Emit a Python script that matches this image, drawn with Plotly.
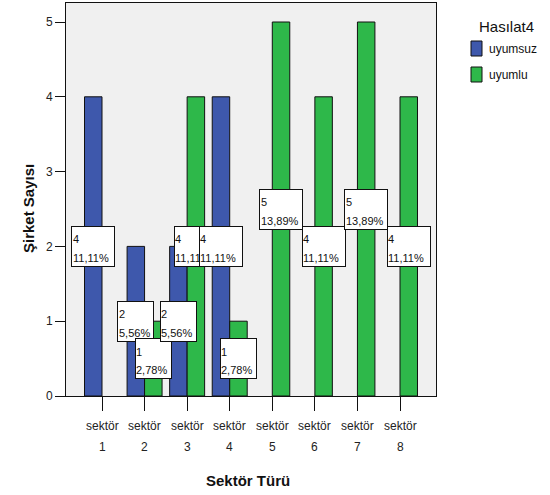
import plotly.graph_objects as go

# ---------------- data ----------------
sector_word = "sektör"
sector_nums = ["1", "2", "3", "4", "5", "6", "7", "8"]
series_names = ["uyumsuz", "uyumlu"]
uyumsuz = [4, 2, 2, 4, 0, 0, 0, 0]
uyumlu = [0, 1, 4, 1, 5, 4, 5, 4]
y_ticks = [0, 1, 2, 3, 4, 5]
legend_title = "Hasılat4"
x_title = "Sektör Türü"
y_title = "Şirket Sayısı"

# ---------------- styling / geometry ----------------
W, H = 550, 495
PL, PR, PT, PB = 66, 436, 3, 396          # plot area pixel edges
colors = ["#3e58ac", "#2eb84a"]
FONT = "Liberation Sans, Arial, sans-serif"
bar_w = 0.411
xpad = 0.8457
y_top = 5.254

def px_to_paper_x(px):
    return (px - PL) / (PR - PL)

def px_to_paper_y(py):
    return (PB - py) / (PB - PT)

xs = list(range(1, len(sector_nums) + 1))
series = [uyumsuz, uyumlu]
total = sum(uyumsuz) + sum(uyumlu)

fig = go.Figure()
for name, vals, col in zip(series_names, series, colors):
    fig.add_trace(go.Bar(
        x=xs, y=[v if v else None for v in vals], name=name,
        marker=dict(color=col, line=dict(color="#111111", width=1)),
        showlegend=False, hoverinfo="x+y+name"))

annotations = []
# value labels (box + two text lines), in drawing order
for i, x in enumerate(xs):
    for s, vals in enumerate(series):
        v = vals[i]
        if not v:
            continue
        cx = x - bar_w / 2 if s == 0 else x + bar_w / 2
        pct = f"{v / total * 100:.2f}".replace(".", ",") + "%"
        bw = 44 if len(pct) >= 6 else 37
        annotations.append(dict(
            x=cx, y=v / 2, xref="x", yref="y", text=" ", showarrow=False,
            xanchor="center", yanchor="middle", width=bw - 2, height=39,
            bgcolor="white", bordercolor="#111111", borderwidth=1, borderpad=0))
        annotations.append(dict(
            x=cx, y=v / 2, xref="x", yref="y", text=str(v), showarrow=False,
            xanchor="left", yanchor="middle", xshift=-bw / 2 - 0.5, yshift=7,
            font=dict(size=11, color="#111111", family=FONT),
            borderwidth=1, borderpad=1))
        annotations.append(dict(
            x=cx, y=v / 2, xref="x", yref="y", text=pct, showarrow=False,
            xanchor="left", yanchor="middle", xshift=-bw / 2 - 0.5, yshift=-11.5,
            font=dict(size=11, color="#111111", family=FONT),
            borderwidth=1, borderpad=1))

# category tick labels (two lines with wide spacing)
for x, n in zip(xs, sector_nums):
    annotations.append(dict(
        x=x, y=0, xref="x", yref="paper", text=sector_word, showarrow=False,
        xanchor="center", yanchor="middle", yshift=-(425.7 - PB),
        font=dict(size=12, color="#222222", family=FONT)))
    annotations.append(dict(
        x=x, y=0, xref="x", yref="paper", text=n, showarrow=False,
        xanchor="center", yanchor="middle", yshift=-(446.7 - PB),
        font=dict(size=12, color="#222222", family=FONT)))

# axis titles
annotations.append(dict(
    x=px_to_paper_x(248), y=0, xref="paper", yref="paper", text=f"<b>{x_title}</b>",
    showarrow=False, xanchor="center", yanchor="middle", yshift=-(480 - PB),
    font=dict(size=15, color="#111111", family=FONT)))
annotations.append(dict(
    x=px_to_paper_x(28), y=px_to_paper_y(209), xref="paper", yref="paper",
    text=f"<b>{y_title}</b>", textangle=-90, showarrow=False,
    xanchor="center", yanchor="middle",
    font=dict(size=15, color="#111111", family=FONT)))

# legend (title + swatches + labels)
annotations.append(dict(
    x=px_to_paper_x(477), y=px_to_paper_y(27), xref="paper", yref="paper",
    text=legend_title, showarrow=False, xanchor="left", yanchor="middle",
    font=dict(size=15, color="#111111", family=FONT)))
shapes = []
sw_tops = [41, 67]
for name, col, top in zip(series_names, colors, sw_tops):
    shapes.append(dict(
        type="rect", xref="paper", yref="paper",
        x0=px_to_paper_x(471), x1=px_to_paper_x(482),
        y0=px_to_paper_y(top + 15), y1=px_to_paper_y(top),
        fillcolor=col, line=dict(color="#111111", width=1)))
    annotations.append(dict(
        x=px_to_paper_x(487), y=px_to_paper_y(top + 8), xref="paper", yref="paper",
        text=name, showarrow=False, xanchor="left", yanchor="middle",
        font=dict(size=12, color="#111111", family=FONT)))

fig.update_layout(
    width=W, height=H,
    margin=dict(l=PL, r=W - PR, t=PT, b=H - PB, pad=0),
    paper_bgcolor="white", plot_bgcolor="#f0f0f0",
    barmode="group", bargap=1 - 2 * bar_w, bargroupgap=0,
    font=dict(family=FONT, size=12, color="#222222"),
    annotations=annotations, shapes=shapes,
    showlegend=False,
    xaxis=dict(range=[1 - xpad, len(xs) + xpad], tickvals=xs, showticklabels=False,
               ticks="outside", ticklen=14, tickcolor="#111111", tickwidth=1,
               showline=True, linecolor="#111111", linewidth=1, mirror=True,
               showgrid=False, zeroline=False, fixedrange=True),
    yaxis=dict(range=[0, y_top], tickvals=y_ticks, ticks="outside", ticklen=10,
               tickcolor="#111111", tickwidth=1,
               tickfont=dict(size=12, color="#222222", family=FONT),
               showline=True, linecolor="#111111", linewidth=1, mirror=True,
               showgrid=False, zeroline=False, fixedrange=True),
)

fig.write_html("out.html")
